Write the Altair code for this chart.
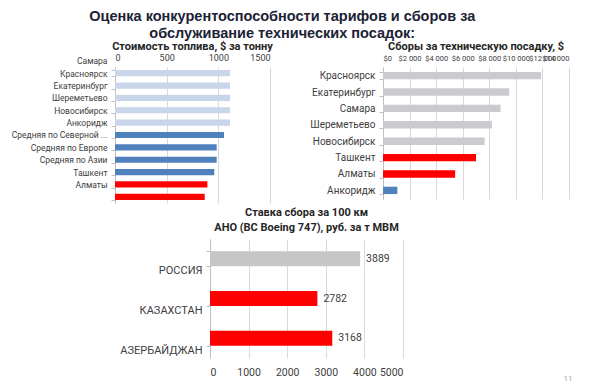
import altair as alt
import pandas as pd

# ---------------- data ----------------
fuel_cities = ["Самара", "Красноярск", "Екатеринбург", "Шереметьево", "Новосибирск",
               "Анкоридж", "Средняя по Северной ...", "Средняя по Европе",
               "Средняя по Азии", "Ташкент", "Алматы"]
fuel_values = [1113, 1113, 1113, 1113, 1113, 1055, 984, 984, 961, 894, 868]
fuel_groups = ["Россия"] * 5 + ["Зарубежье"] * 4 + ["Средняя Азия"] * 2

fee_cities = ["Красноярск", "Екатеринбург", "Самара", "Шереметьево", "Новосибирск",
              "Ташкент", "Алматы", "Анкоридж"]
fee_values = [11900, 9500, 8850, 8200, 7650, 7000, 5430, 1080]
fee_groups = ["Россия"] * 5 + ["Средняя Азия"] * 2 + ["Зарубежье"]

rate_countries = ["РОССИЯ", "КАЗАХСТАН", "АЗЕРБАЙДЖАН"]
rate_values = [3889, 2782, 3168]
rate_groups = ["Россия", "Средняя Азия", "Средняя Азия"]

main_title = ["Оценка конкурентоспособности тарифов и сборов за",
              "обслуживание технических посадок:"]
fuel_title = "Стоимость топлива, $ за тонну"
fee_title = "Сборы за техническую посадку, $"
rate_title = ["Ставка сбора за 100 км", "АНО (ВС Boeing 747), руб. за т МВМ"]
fuel_ticks = [0, 500, 1000, 1500]
fee_ticks = [0, 2000, 4000, 6000, 8000, 10000, 12000, 14000]
rate_ticks = [0, 1000, 2000, 3000, 4000, 5000]
page_number = "11"

# ---------------- style ----------------
FONT = "Roboto"
LABEL = "#404040"
GRID = "#d9d9d9"
AXIS = "#bfbfbf"
BLUE = "#4f81bd"
RED = "#ff0000"
group_domain = ["Россия", "Зарубежье", "Средняя Азия"]

fuel_df = pd.DataFrame({"city": fuel_cities, "value": fuel_values, "group": fuel_groups})
fee_df = pd.DataFrame({"city": fee_cities, "value": fee_values, "group": fee_groups})
rate_df = pd.DataFrame({"country": rate_countries, "value": rate_values, "group": rate_groups})


def y_axis(offset, extent, size=10.5):
    return alt.Axis(title=None, labelOffset=offset, tickBand="extent", ticks=True, tickSize=4,
                    tickColor=AXIS, domainColor=AXIS, labelColor=LABEL, labelFont=FONT,
                    labelFontSize=size, labelPadding=4, grid=False, labelLimit=200,
                    minExtent=extent)


def sub_title(text, offset):
    return alt.TitleParams(text, font=FONT, fontSize=11, fontWeight="bold", frame="group",
                           color="#262626", anchor="middle", offset=offset, lineHeight=15)


# chart 1: fuel
c1 = alt.Chart(fuel_df).mark_bar().encode(
    y=alt.Y("city:N", sort=fuel_cities, scale=alt.Scale(paddingInner=0.5, paddingOuter=0.25),
            axis=y_axis(-12.4, 107, 8.5)),
    x=alt.X("value:Q", scale=alt.Scale(domain=[0, 1500], nice=False),
            axis=alt.Axis(orient="top", values=fuel_ticks, title=None, domain=False, ticks=False,
                          grid=True, gridColor=GRID, labelColor=LABEL, labelFont=FONT,
                          labelFontSize=9, labelPadding=5, format="d")),
    color=alt.Color("group:N", legend=None,
                    scale=alt.Scale(domain=group_domain, range=["#c9d5e9", BLUE, RED])),
).properties(width=155, height=136, title=sub_title(fuel_title, 1))

# chart 2: fees
c2 = alt.Chart(fee_df).mark_bar().encode(
    y=alt.Y("city:N", sort=fee_cities, scale=alt.Scale(paddingInner=0.55, paddingOuter=0.3),
            axis=y_axis(0, 90, 10)),
    x=alt.X("value:Q", scale=alt.Scale(domain=[0, 14000], nice=False),
            axis=alt.Axis(orient="top", values=fee_ticks, title=None, domain=False, ticks=False,
                          grid=True, gridColor=GRID, labelColor=LABEL, labelFont=FONT,
                          labelFontSize=7.5, labelPadding=5, labelOverlap=False,
                          labelExpr="'$' + replace(format(datum.value, ','), ',', ' ')")),
    color=alt.Color("group:N", legend=None,
                    scale=alt.Scale(domain=group_domain, range=["#cbcbcf", BLUE, RED])),
).properties(width=186, height=132, title=sub_title(fee_title, 2))

# chart 3: route charges
base3 = alt.Chart(rate_df).encode(
    y=alt.Y("country:N", sort=rate_countries, scale=alt.Scale(paddingInner=0.62, paddingOuter=0.31),
            axis=y_axis(12, 92, 11)),
    x=alt.X("value:Q", scale=alt.Scale(domain=[0, 5000], nice=False),
            axis=alt.Axis(values=rate_ticks, title=None, domain=False, ticks=False, grid=True,
                          gridColor=GRID, labelColor=LABEL, labelFont=FONT, labelFontSize=10.5,
                          labelPadding=9, format="d")),
)
bars3 = base3.mark_bar().encode(
    color=alt.Color("group:N", legend=None,
                    scale=alt.Scale(domain=group_domain, range=["#c6c6c6", BLUE, RED])))
text3 = base3.mark_text(align="left", dx=6, font=FONT, fontSize=10.5, color=LABEL).encode(
    text=alt.Text("value:Q"))
page3 = alt.Chart(pd.DataFrame({"t": [page_number]})).mark_text(
    font=FONT, fontSize=8, color="#a6a6a6").encode(
    text="t:N", x=alt.value(358), y=alt.value(140))
c3 = alt.layer(bars3, text3, page3).properties(
    width=193, height=119, title=sub_title(rate_title, 0))

spacer = alt.Chart(pd.DataFrame({"t": [""]})).mark_text().encode(
    text="t:N").properties(width=3, height=10)

row1 = alt.hconcat(c1, c2, spacing=20).resolve_scale(color="independent")
row2 = alt.hconcat(spacer, c3, spacing=0).resolve_scale(color="independent")

chart = alt.vconcat(row1, row2, spacing=4).resolve_scale(color="independent").properties(
    padding=0,
    title=alt.TitleParams(main_title, font="Liberation Sans", fontSize=14.5, fontWeight="bold",
                          color="#1b2235", anchor="middle", lineHeight=17, offset=0, dx=-8),
).configure_view(stroke=None)

chart.save("out.html", embed_options={"renderer": "svg", "actions": False})
